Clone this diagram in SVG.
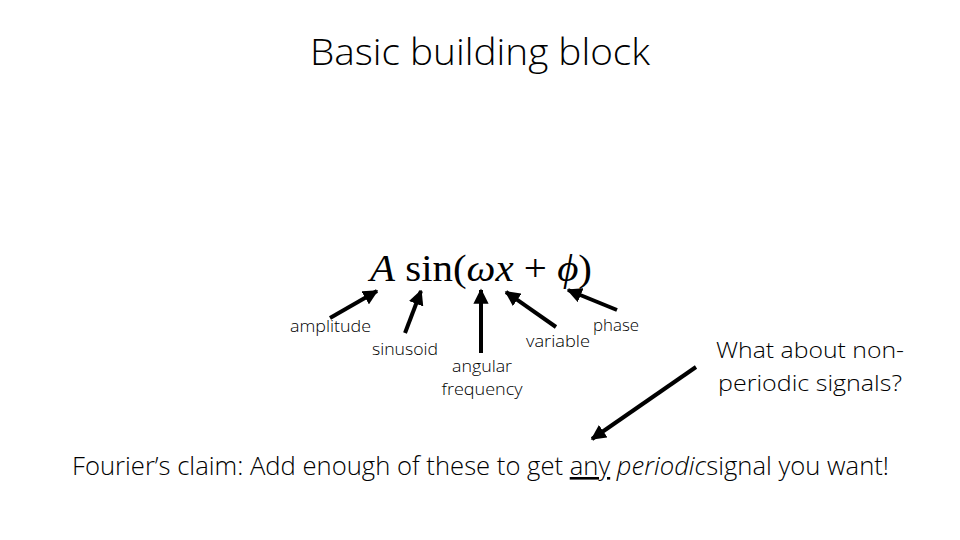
<svg xmlns="http://www.w3.org/2000/svg" width="960" height="540" viewBox="0 0 960 540">
<defs>
<marker id="ah" viewBox="0 0 10 10" refX="9" refY="5" markerWidth="3.8" markerHeight="3.8" orient="auto" markerUnits="strokeWidth">
<path d="M0,0 L10,5 L0,10 z" fill="#000"/>
</marker>
<style>
.t{font-family:"Open Sans","Liberation Sans",sans-serif;font-weight:300;fill:#000}
.lbl{font-size:16px}
.m{font-family:"Liberation Serif","DejaVu Serif",serif;font-size:38px;fill:#000}
.c{stroke:#000;stroke-width:4;fill:none;marker-end:url(#ah)}
</style>
</defs>
<rect width="960" height="540" fill="#fff"/>
<g id="title"><text class="t" x="480" y="65" font-size="36" text-anchor="middle" textLength="340" lengthAdjust="spacingAndGlyphs">Basic building block</text></g>
<g id="formula"><text class="m" x="370" y="281" textLength="222" lengthAdjust="spacingAndGlyphs"><tspan font-style="italic">A</tspan> <tspan>sin(</tspan><tspan font-style="italic">ωx</tspan> + <tspan font-style="italic">ϕ</tspan>)</text></g>
<g id="amplitude"><text class="t lbl" x="290" y="332" textLength="81" lengthAdjust="spacingAndGlyphs">amplitude</text></g>
<g id="sinusoid"><text class="t lbl" x="372" y="355" textLength="66" lengthAdjust="spacingAndGlyphs">sinusoid</text></g>
<g id="angular"><text class="t lbl" x="482" y="372" text-anchor="middle" textLength="60" lengthAdjust="spacingAndGlyphs">angular</text><text class="t lbl" x="482" y="395" text-anchor="middle" textLength="81" lengthAdjust="spacingAndGlyphs">frequency</text></g>
<g id="variable"><text class="t lbl" x="526" y="347" textLength="64" lengthAdjust="spacingAndGlyphs">variable</text></g>
<g id="phase"><text class="t lbl" x="593" y="331" textLength="46" lengthAdjust="spacingAndGlyphs">phase</text></g>
<g id="question"><text class="t" x="716" y="358" font-size="22" textLength="188" lengthAdjust="spacingAndGlyphs">What about non-</text><text class="t" x="718" y="391" font-size="22" textLength="184" lengthAdjust="spacingAndGlyphs">periodic signals?</text></g>
<g id="claim"><text class="t" x="72" y="475" font-size="26" textLength="817" lengthAdjust="spacingAndGlyphs">Fourier’s claim: Add enough of these to get <tspan text-decoration="underline">any</tspan> <tspan font-style="italic">periodic</tspan>signal you want!</text></g>
<g id="connectors">
<line class="c" x1="330" y1="318" x2="377" y2="291"/>
<line class="c" x1="405" y1="333" x2="421" y2="291"/>
<line class="c" x1="481" y1="353" x2="481" y2="290"/>
<line class="c" x1="556" y1="327" x2="506" y2="292"/>
<line class="c" x1="617" y1="310" x2="568" y2="290"/>
<line class="c" x1="696" y1="367" x2="592" y2="439"/>
</g>
</svg>
